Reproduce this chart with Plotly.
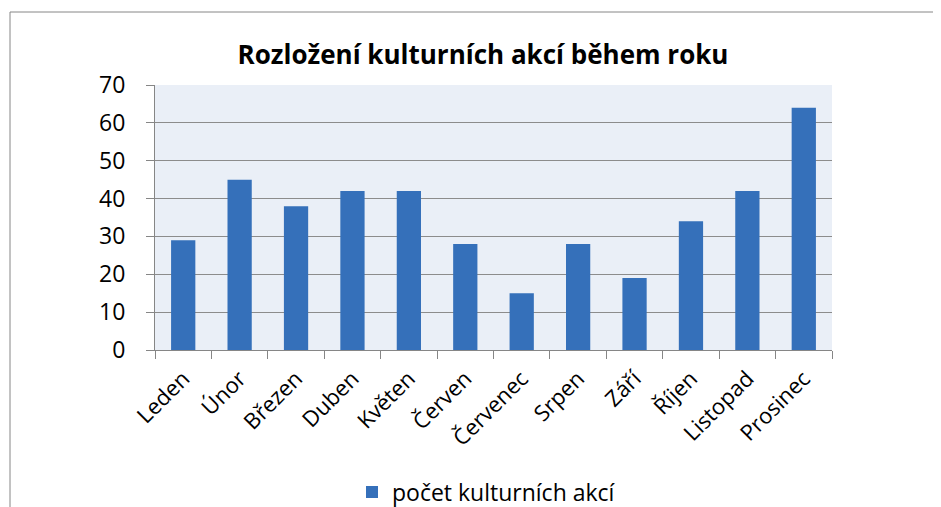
import plotly.graph_objects as go

months = ["Leden", "Únor", "Březen", "Duben", "Květen", "Červen", "Červenec",
          "Srpen", "Září", "Říjen", "Listopad", "Prosinec"]
values = [29, 45, 38, 42, 42, 28, 15, 28, 19, 34, 42, 64]
series_name = "počet kulturních akcí"
title_text = "Rozložení kulturních akcí během roku"

OFF = 8  # page body margin
W, H = 941 - OFF, 507 - OFF
L, R, T, B = 155 - OFF, 832 - OFF, 85 - OFF, 350 - OFF

def px_x(p):
    return (p - OFF - L) / (R - L)

def px_y(p):
    return (B - (p - OFF)) / (B - T)

font_family = "Open Sans, Noto Sans, DejaVu Sans, sans-serif"

fig = go.Figure()
fig.add_trace(go.Bar(
    x=months, y=values, name=series_name,
    marker=dict(color="#3570BA", line=dict(width=0)),
    showlegend=True,
))

fig.update_layout(
    width=W, height=H,
    margin=dict(l=L, r=W - R, t=T, b=H - B, pad=0, autoexpand=False),
    paper_bgcolor="white",
    plot_bgcolor="#EAEFF7",
    bargap=0.57,
    font=dict(family=font_family, color="black"),
    title=dict(text="<b>" + title_text + "</b>", x=(483 - OFF) / W, y=1 - (55 - OFF) / H,
               xref="container", yref="container", xanchor="center", yanchor="middle",
               font=dict(size=26, family=font_family, color="black")),
    showlegend=True,
    legend=dict(orientation="h", x=px_x(352), y=px_y(492), xanchor="left",
                yanchor="middle", font=dict(size=23, family=font_family),
                itemwidth=30, bgcolor="rgba(0,0,0,0)"),
    xaxis=dict(
        showgrid=False, showline=True, linecolor="#868686", linewidth=1,
        ticks="outside", ticklen=8, tickcolor="#868686", tickson="boundaries",
        tickangle=-45, tickfont=dict(size=22, family=font_family),
        ticklabelstandoff=6, mirror=False, automargin=False,
    ),
    yaxis=dict(
        range=[0, 70], dtick=10, showgrid=True, gridcolor="#8C8C8C", gridwidth=1,
        showline=True, linecolor="#868686", linewidth=1,
        ticks="outside", ticklen=8, tickcolor="#868686",
        tickfont=dict(size=23, family=font_family), zeroline=False,
        ticklabelstandoff=16, automargin=False,
    ),
    shapes=[dict(type="rect", xref="paper", yref="paper",
                 x0=px_x(10), x1=px_x(946), y0=px_y(12), y1=px_y(515),
                 line=dict(color="#868686", width=1), fillcolor="rgba(0,0,0,0)",
                 layer="below")],
)

fig.write_html("out.html")
